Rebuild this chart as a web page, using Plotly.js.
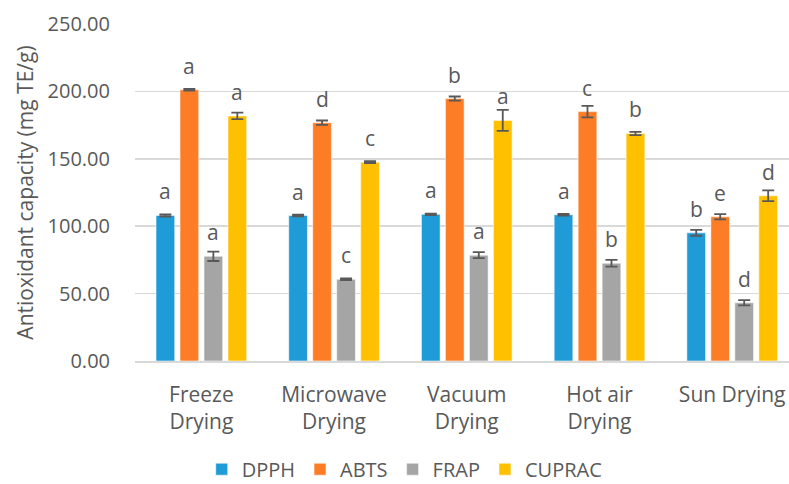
<!DOCTYPE html>
<html>
<head>
<meta charset="utf-8">
<script src="https://cdn.plot.ly/plotly-3.0.1.min.js"></script>
<style>
  html, body { margin: 0; padding: 0; background: #ffffff; overflow: hidden; }
  #chart { width: 789px; height: 500px; }
</style>
</head>
<body>
<div id="chart"></div>
<script>
// Drying methods on the category axis
const categories = ['Freeze<br>Drying', 'Microwave<br>Drying', 'Vacuum<br>Drying', 'Hot air<br>Drying', 'Sun Drying'];

// Antioxidant capacity (mg TE/g), mean and standard deviation per assay
const dpph      = [108.0, 107.9, 108.8, 108.5, 95.1];
const dpphErr   = [0.8, 0.6, 0.6, 0.6, 2.2];
const abts      = [201.2, 176.8, 194.7, 185.0, 107.0];
const abtsErr   = [0.6, 1.6, 1.5, 4.2, 2.0];
const frap      = [77.7, 60.6, 78.5, 72.5, 43.2];
const frapErr   = [3.5, 0.6, 2.2, 2.5, 2.0];
const cuprac    = [181.8, 147.5, 178.5, 168.8, 122.6];
const cupracErr = [2.4, 0.7, 7.8, 1.2, 4.0];

// Significance letters shown above each bar
const dpphLetters   = ['a', 'a', 'a', 'a', 'b'];
const abtsLetters   = ['a', 'd', 'b', 'c', 'e'];
const frapLetters   = ['a', 'c', 'a', 'b', 'd'];
const cupracLetters = ['a', 'c', 'a', 'b', 'd'];

const seriesNames = ['DPPH', 'ABTS', 'FRAP', 'CUPRAC'];
const seriesColors = ['#1f9bd7', '#fd7d27', '#a5a5a5', '#ffc000'];

const values = [dpph, abts, frap, cuprac];
const errors = [dpphErr, abtsErr, frapErr, cupracErr];
const letters = [dpphLetters, abtsLetters, frapLetters, cupracLetters];

const textColor = '#595959';
const fontFamily = '"Open Sans", "Noto Sans", sans-serif';
const BARGAP = 0.277;

const traces = seriesNames.map((name, s) => ({
  type: 'bar',
  name: name,
  x: categories,
  y: values[s],
  marker: { color: seriesColors[s], line: { color: 'rgba(255,255,255,0.55)', width: 1 } },
  error_y: { type: 'data', array: errors[s], visible: true, color: '#595959', thickness: 1.8, width: 6 },
  hoverinfo: 'skip'
}));

// Letters sit a fixed distance above the top of their bar
const nSeries = seriesNames.length;
const slot = (1 - BARGAP) / nSeries;
const annotations = [];
seriesNames.forEach((name, s) => {
  values[s].forEach((v, i) => {
    annotations.push({
      x: i + (s - (nSeries - 1) / 2) * slot,
      y: v,
      xref: 'x', yref: 'y',
      text: letters[s][i],
      showarrow: false,
      yanchor: 'middle',
      yshift: 24,
      font: { family: fontFamily, size: 21, color: textColor }
    });
  });
});

// The figure is a little taller than the visible window so the legend
// can sit low without pushing the plot area up.
const layout = {
  width: 789,
  height: 500,
  margin: { l: 135, r: 0, t: 24, b: 139 },
  paper_bgcolor: '#ffffff',
  plot_bgcolor: '#ffffff',
  barmode: 'group',
  bargap: BARGAP,
  bargroupgap: 0.22,
  showlegend: true,
  font: { family: fontFamily, color: textColor, size: 20 },
  xaxis: {
    type: 'category',
    range: [-0.5, 4.428],
    showgrid: false,
    showline: true,
    linecolor: '#d9d9d9',
    linewidth: 1.5,
    ticks: 'outside',
    ticklen: 14,
    tickcolor: 'rgba(0,0,0,0)',
    tickfont: { family: fontFamily, size: 21, color: textColor },
    fixedrange: true
  },
  yaxis: {
    range: [0, 250],
    dtick: 50,
    tickformat: '.2f',
    showgrid: true,
    gridcolor: '#d9d9d9',
    gridwidth: 1.5,
    zeroline: false,
    showline: false,
    ticks: 'outside',
    ticklen: 20,
    tickcolor: 'rgba(0,0,0,0)',
    tickfont: { family: fontFamily, size: 20, color: textColor },
    title: { text: 'Antioxidant capacity (mg TE/g)', font: { family: fontFamily, size: 21, color: textColor }, standoff: 8 },
    fixedrange: true
  },
  legend: {
    orientation: 'h',
    x: 0.102,
    xanchor: 'left',
    y: -0.321,
    yanchor: 'middle',
    font: { family: fontFamily, size: 20, color: textColor },
    itemclick: false,
    itemdoubleclick: false
  },
  annotations: annotations
};

Plotly.newPlot('chart', traces, layout, { displayModeBar: false, staticPlot: true });
</script>
</body>
</html>
